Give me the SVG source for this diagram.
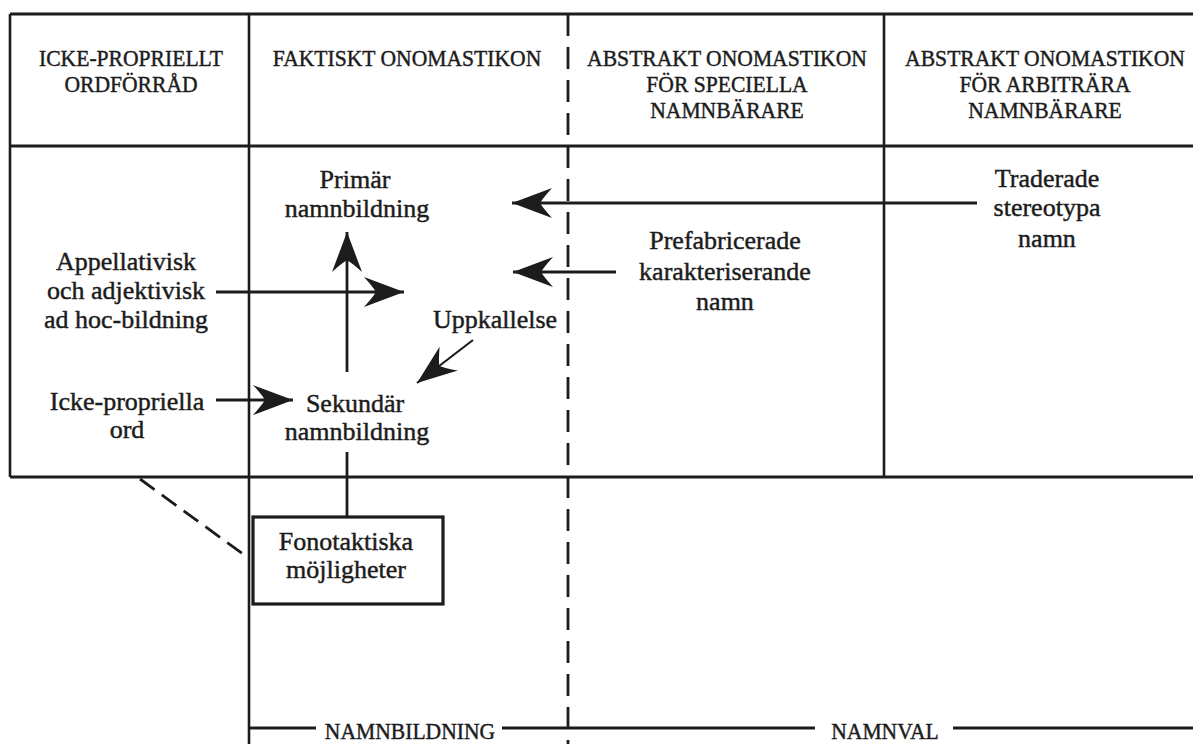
<svg xmlns="http://www.w3.org/2000/svg" width="1193" height="744" viewBox="0 0 1193 744">
<style>
text{font-family:"Liberation Serif","Times New Roman",serif;fill:#1c1c1c;text-anchor:middle;stroke:#1c1c1c;stroke-width:0.45}
.h{font-size:24px}
.b{font-size:26px}
.frame{stroke:#1c1c1c;fill:none}
.thick{stroke-width:3.2}
.thin{stroke-width:2.6}
.dash{stroke-dasharray:22 11;stroke-width:2.8}
.conn{stroke:#1c1c1c;stroke-width:2.8;fill:none}
.fine{stroke-width:2.2}
</style>
<defs>
<marker id="arr" viewBox="-44 -18 46 36" refX="0" refY="0" markerWidth="46" markerHeight="36" markerUnits="userSpaceOnUse" orient="auto">
<path d="M0,0 L-40,-15 Q-31,-5 -28,0 Q-31,5 -40,15 Z" fill="#1c1c1c"/>
</marker>
</defs>
<rect width="1193" height="744" fill="#fff"/>
<g id="frame" class="frame">
<line class="thick" x1="10" y1="14" x2="1193" y2="14"/>
<line class="thick" x1="10" y1="146" x2="1193" y2="146"/>
<line class="thick" x1="10" y1="477" x2="1193" y2="477"/>
<line class="thin" x1="10" y1="14" x2="10" y2="477"/>
<line class="thin" x1="249" y1="14" x2="249" y2="744"/>
<line class="dash" x1="568" y1="14" x2="568" y2="744"/>
<line class="thin" x1="884" y1="14" x2="884" y2="477"/>
</g>
<g id="header-icke">
<text class="h" transform="translate(131,66) scale(0.9,1)">ICKE-PROPRIELLT</text>
<text class="h" transform="translate(131,92) scale(0.9,1)">ORDFÖRRÅD</text>
</g>
<g id="header-faktiskt">
<text class="h" transform="translate(407,66) scale(0.9,1)">FAKTISKT ONOMASTIKON</text>
</g>
<g id="header-speciella">
<text class="h" transform="translate(727,66) scale(0.9,1)">ABSTRAKT ONOMASTIKON</text>
<text class="h" transform="translate(727,92) scale(0.9,1)">FÖR SPECIELLA</text>
<text class="h" transform="translate(727,118) scale(0.9,1)">NAMNBÄRARE</text>
</g>
<g id="header-arbitrara">
<text class="h" transform="translate(1045,66) scale(0.9,1)">ABSTRAKT ONOMASTIKON</text>
<text class="h" transform="translate(1045,92) scale(0.9,1)">FÖR ARBITRÄRA</text>
<text class="h" transform="translate(1045,118) scale(0.9,1)">NAMNBÄRARE</text>
</g>
<g id="primar">
<text class="b" x="355" y="188">Primär</text>
<text class="b" x="357" y="217">namnbildning</text>
</g>
<g id="appellativisk">
<text class="b" x="126" y="270">Appellativisk</text>
<text class="b" x="126" y="299">och adjektivisk</text>
<text class="b" x="126" y="328">ad hoc-bildning</text>
</g>
<g id="icke-propriella">
<text class="b" x="127" y="410">Icke-propriella</text>
<text class="b" x="127" y="438">ord</text>
</g>
<g id="sekundar">
<text class="b" x="355" y="412">Sekundär</text>
<text class="b" x="357" y="440">namnbildning</text>
</g>
<g id="uppkallelse">
<text class="b" x="495" y="328">Uppkallelse</text>
</g>
<g id="prefabricerade">
<text class="b" x="725" y="249">Prefabricerade</text>
<text class="b" x="725" y="280">karakteriserande</text>
<text class="b" x="725" y="310">namn</text>
</g>
<g id="traderade">
<text class="b" x="1047" y="187">Traderade</text>
<text class="b" x="1047" y="216">stereotypa</text>
<text class="b" x="1047" y="247">namn</text>
</g>
<g id="fonotaktiska">
<rect x="253" y="517" width="190" height="87" fill="#fff" stroke="#1c1c1c" stroke-width="3.2"/>
<text class="b" x="346" y="550">Fonotaktiska</text>
<text class="b" x="346" y="578">möjligheter</text>
</g>
<g id="namnbildning-label">
<line class="conn" x1="249" y1="728" x2="316" y2="728"/>
<text class="h" transform="translate(410,739) scale(0.9,1)">NAMNBILDNING</text>
<line class="conn" x1="502" y1="728" x2="568" y2="728"/>
</g>
<g id="namnval-label">
<line class="conn" x1="568" y1="728" x2="815" y2="728"/>
<text class="h" transform="translate(885,739) scale(0.9,1)">NAMNVAL</text>
<line class="conn" x1="953" y1="728" x2="1193" y2="728"/>
</g>
<g id="connectors">
<line class="conn" x1="977" y1="203" x2="512" y2="203" marker-end="url(#arr)"/>
<line class="conn" x1="616" y1="272" x2="513" y2="272" marker-end="url(#arr)"/>
<line class="conn" x1="216" y1="292" x2="404" y2="292" marker-end="url(#arr)"/>
<line class="conn" x1="216" y1="400" x2="293" y2="400" marker-end="url(#arr)"/>
<line class="conn" x1="347" y1="372" x2="347" y2="232" marker-end="url(#arr)"/>
<line class="conn fine" x1="473" y1="340" x2="417" y2="383" marker-end="url(#arr)"/>
<line class="conn" x1="347" y1="452" x2="347" y2="517"/>
<line class="conn" x1="140" y1="479" x2="247" y2="557" stroke-dasharray="18 9" stroke-width="3"/>
</g>
</svg>
